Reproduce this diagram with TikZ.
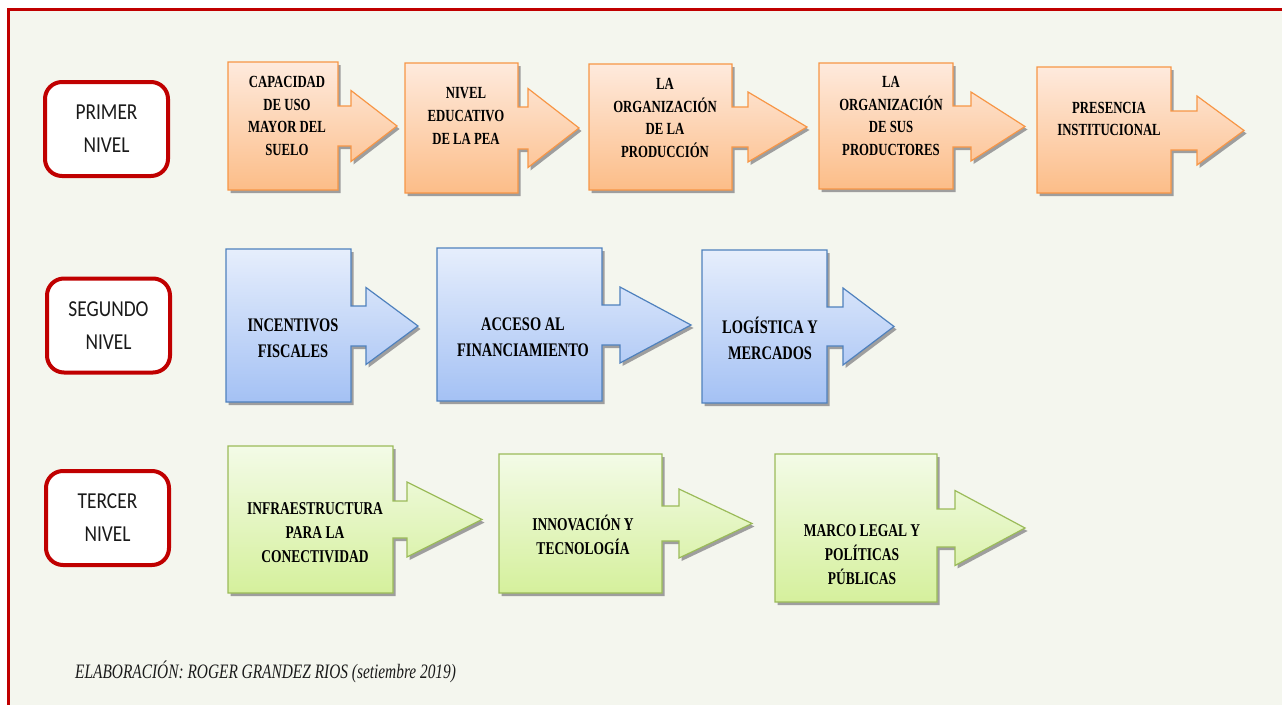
\documentclass[tikz,border=0pt]{standalone}
\usepackage{fontspec}
\newfontfamily\lvlfont[FakeStretch=0.85]{Carlito}
\newfontfamily\boxfont[FakeStretch=0.75]{Liberation Serif}
\definecolor{bgc}{HTML}{F4F6EE}
\definecolor{framered}{HTML}{C00000}
\definecolor{orline}{HTML}{F79646}
\definecolor{ortop}{HTML}{FEEADD}
\definecolor{orbot}{HTML}{FCBD88}
\definecolor{blline}{HTML}{4F81BD}
\definecolor{bltop}{HTML}{E6EEFC}
\definecolor{blbot}{HTML}{A4C1F4}
\definecolor{grline}{HTML}{9BBB59}
\definecolor{grtop}{HTML}{F3FBE7}
\definecolor{grbot}{HTML}{D5F09C}
\definecolor{txt}{HTML}{1A1A1A}
\tikzset{
  orangecall/.style={draw=orline, line width=1.2pt, top color=ortop, bottom color=orbot},
  bluecall/.style={draw=blline, line width=1.2pt, top color=bltop, bottom color=blbot},
  greencall/.style={draw=grline, line width=1.2pt, top color=grtop, bottom color=grbot},
  shadowc/.style={fill=black!38, draw=none},
  levelbox/.style={draw=framered, line width=4pt, fill=white, rounded corners=17pt,
    minimum width=123pt, minimum height=94pt, align=center, text=txt,
    font=\lvlfont\fontsize{22.8}{33}\selectfont},
  boxtxt/.style={align=center, text=black, inner sep=0pt},
  rowone/.style={boxtxt, font=\boxfont\bfseries\fontsize{17}{22.6}\selectfont},
  rowtwo/.style={boxtxt, font=\boxfont\bfseries\fontsize{19.2}{26}\selectfont},
  rowthree/.style={boxtxt, font=\boxfont\bfseries\fontsize{18}{24}\selectfont},
}
\newcommand\callout[2]{\def\cstyle{#1}\parsecall#2\relax}
\def\parsecall#1,#2,#3,#4,#5,#6,#7,#8,#9\relax{%
  \fill[shadowc, shift={(2.5,3)}] (#1,#2) -- (#3,#2) -- (#3,#5-#6) -- (#8,#5-#6) -- (#8,#5-#7) -- (#9,#5) -- (#8,#5+#7) -- (#8,#5+#6) -- (#3,#5+#6) -- (#3,#4) -- (#1,#4) -- cycle;
  \path[style=\cstyle] (#1,#2) -- (#3,#2) -- (#3,#5-#6) -- (#8,#5-#6) -- (#8,#5-#7) -- (#9,#5) -- (#8,#5+#7) -- (#8,#5+#6) -- (#3,#5+#6) -- (#3,#4) -- (#1,#4) -- cycle;
}
\begin{document}
\begin{tikzpicture}[x=1pt,y=-1pt]
\useasboundingbox (0,0) rectangle (1282,704);
\fill[white] (0,0) rectangle (1282,704);
\fill[bgc] (8,9.5) rectangle (1290,712);
\draw[framered, line width=3pt] (8,712) -- (8,9.5) -- (1290,9.5);

% level boxes
\node[levelbox] (l1) at (106.5,129) {PRIMER\\NIVEL};
\node[levelbox] (l2) at (108.5,325.5) {SEGUNDO\\NIVEL};
\node[levelbox] (l3) at (107.5,518) {TERCER\\NIVEL};

% row 1
\callout{orangecall}{228,62,338,190,126,20,35.5,351,397}
\callout{orangecall}{405,63,518,193,128,21,39.5,528,579}
\callout{orangecall}{589,64,732,190,127,20,35,748,807}
\callout{orangecall}{819,63,953,189,126.5,20.5,34.5,971,1025}
\callout{orangecall}{1037,67,1171,193,130.5,19.5,34.5,1197,1244}
\node[rowone] (a1) at (287,116) {CAPACIDAD\\DE USO\\MAYOR DEL\\SUELO};
\node[rowone] (a2) at (466,116) {NIVEL\\EDUCATIVO\\DE LA PEA};
\node[rowone] (a3) at (665,118) {LA\\ORGANIZACIÓN\\DE LA\\PRODUCCIÓN};
\node[rowone] (a4) at (891,116) {LA\\ORGANIZACIÓN\\DE SUS\\PRODUCTORES};
\node[rowone] (a5) at (1109,119) {PRESENCIA\\INSTITUCIONAL};

% row 2
\callout{bluecall}{226,249,351,402,326,20,38.5,366,418}
\callout{bluecall}{437,248,602,401,325,20,38,620,691}
\callout{bluecall}{702,250,827,403,326.5,19.5,38.5,843,894}
\node[rowtwo] (b1) at (293,338) {INCENTIVOS\\FISCALES};
\node[rowtwo] (b2) at (523,337) {ACCESO AL\\FINANCIAMIENTO};
\node[rowtwo] (b3) at (770,338) {LOGÍSTICA Y\\MERCADOS};

% row 3
\callout{greencall}{228,446,393,593,519.5,18.5,37.5,407,482}
\callout{greencall}{499,454,662,593,523.5,17.5,34.5,679,752}
\callout{greencall}{775,454,937,602,528,19,37.5,955,1025}
\node[rowthree] (c1) at (315,533) {INFRAESTRUCTURA\\PARA LA\\CONECTIVIDAD};
\node[rowthree] (c2) at (583,535) {INNOVACIÓN Y\\TECNOLOGÍA};
\node[rowthree] (c3) at (862,555) {MARCO LEGAL Y\\POLÍTICAS\\PÚBLICAS};

% footer
\node[anchor=base west, inner sep=0pt, text=txt, font=\boxfont\itshape\fontsize{20.5}{22}\selectfont] (foot) at (75,678) {ELABORACIÓN: ROGER GRANDEZ RIOS (setiembre 2019)};
\end{tikzpicture}
\end{document}
